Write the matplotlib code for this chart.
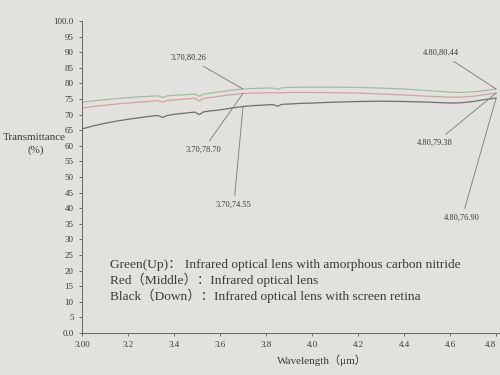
import numpy as np
import matplotlib.pyplot as plt

plt.rcParams['font.family'] = ['Liberation Serif', 'Noto Sans CJK SC', 'DejaVu Sans']

# wavelength (um) and transmittance (%)
wavelength = [3.00, 3.05, 3.10, 3.15, 3.20, 3.25, 3.30, 3.33, 3.35, 3.37,
              3.40, 3.45, 3.49, 3.51, 3.53, 3.56, 3.60, 3.65, 3.70, 3.75,
              3.80, 3.83, 3.85, 3.87, 3.90, 3.95, 4.00, 4.10, 4.20, 4.30,
              4.40, 4.50, 4.60, 4.65, 4.70, 4.75, 4.80]
green = [74.0, 74.4, 74.8, 75.1, 75.4, 75.7, 75.9, 76.0, 75.5, 76.0,
         76.2, 76.4, 76.6, 75.9, 76.6, 76.9, 77.3, 77.8, 78.2, 78.4,
         78.5, 78.5, 78.1, 78.6, 78.7, 78.8, 78.8, 78.8, 78.7, 78.5,
         78.2, 77.7, 77.2, 77.1, 77.3, 77.7, 78.2]
red = [72.1, 72.6, 73.0, 73.4, 73.7, 74.0, 74.3, 74.5, 74.0, 74.5,
       74.7, 75.0, 75.2, 74.4, 75.2, 75.5, 75.9, 76.4, 76.8, 76.9,
       77.0, 77.0, 76.9, 77.0, 77.1, 77.1, 77.1, 77.0, 76.9, 76.6,
       76.3, 75.9, 75.6, 75.6, 75.9, 76.4, 76.9]
black = [65.4, 66.4, 67.2, 67.9, 68.5, 69.0, 69.5, 69.7, 69.1, 69.7,
         70.1, 70.5, 70.8, 70.0, 70.9, 71.2, 71.5, 72.1, 72.6, 72.9,
         73.1, 73.2, 72.7, 73.3, 73.4, 73.6, 73.7, 74.0, 74.2, 74.3,
         74.2, 74.0, 73.7, 73.8, 74.2, 74.8, 75.3]

xticks      = [3.0, 3.2, 3.4, 3.6, 3.8, 4.0, 4.2, 4.4, 4.6, 4.8]
xticklabels = ['3.00', '3.2', '3.4', '3.6', '3.8', '4.0', '4.2', '4.4', '4.6', '4.8']
yticks      = list(range(0, 101, 5))
yticklabels = ['0.0'] + [str(v) for v in yticks[1:-1]] + ['100.0']

# marker labels: (text, series, x, text position)
labels = [('3.70,80.26', green, 3.70, (3.465, 88.1)),
          ('3.70,78.70', red,   3.70, (3.526, 58.7)),
          ('3.70,74.55', black, 3.70, (3.660, 41.0)),
          ('4.80,80.44', green, 4.80, (4.561, 89.7)),
          ('4.80,79.38', red,   4.80, (4.535, 60.9)),
          ('4.80,76.90', black, 4.80, (4.652, 36.9))]

legend_lines = ['Green(Up)： Infrared optical lens with amorphous carbon nitride',
                'Red（Middle）：Infrared optical lens',
                'Black（Down）：Infrared optical lens with screen retina']

bg   = '#e1e2de'
ink  = '#3a3a3a'

fig = plt.figure(figsize=(5, 3.75), dpi=100, facecolor=bg)
ax = fig.add_axes([0.164, 0.112, 0.836, 0.832], facecolor=bg)

ax.plot(wavelength, green, color='#a5bba0', lw=0.9)
ax.plot(wavelength, red,   color='#d9a0a0', lw=0.9)
ax.plot(wavelength, black, color='#6e6e6e', lw=0.9)

for txt, series, xv, pos in labels:
    yv = np.interp(xv, wavelength, series)
    ax.annotate(txt, xy=(xv, yv), xytext=pos, fontsize=6, color=ink,
                ha='center', va='center',
                arrowprops=dict(arrowstyle='-', color='#777777', lw=0.6,
                                shrinkA=2, shrinkB=0))

for i, line in enumerate(legend_lines):
    ax.text(3.122, 21.8 - 4.9 * i, line, fontsize=9.6, color=ink, va='center')

ax.set_xlim(3.0, 4.817)
ax.set_ylim(0, 100)
ax.set_xticks(xticks)
ax.set_xticklabels(xticklabels)
ax.set_yticks(yticks)
ax.set_yticklabels(yticklabels)
ax.tick_params(labelsize=6.5, colors='#555555', labelcolor=ink, length=2.5, width=0.6)
ax.get_xticklabels()[-1].set_horizontalalignment('right')

for s in ['top', 'right']:
    ax.spines[s].set_visible(False)
for s in ['left', 'bottom']:
    ax.spines[s].set_color('#666666')
    ax.spines[s].set_linewidth(0.7)

fig.text(34.5 / 500, 1 - 138 / 375, 'Transmittance', fontsize=8, color=ink, ha='center', va='center')
fig.text(35.5 / 500, 1 - 150 / 375, '(%)', fontsize=8, color=ink, ha='center', va='center')
fig.text(322 / 500, 1 - 360 / 375, 'Wavelength（μm）', fontsize=8, color=ink, ha='center', va='center')

fig.savefig('out.png', dpi=100, facecolor=bg)
